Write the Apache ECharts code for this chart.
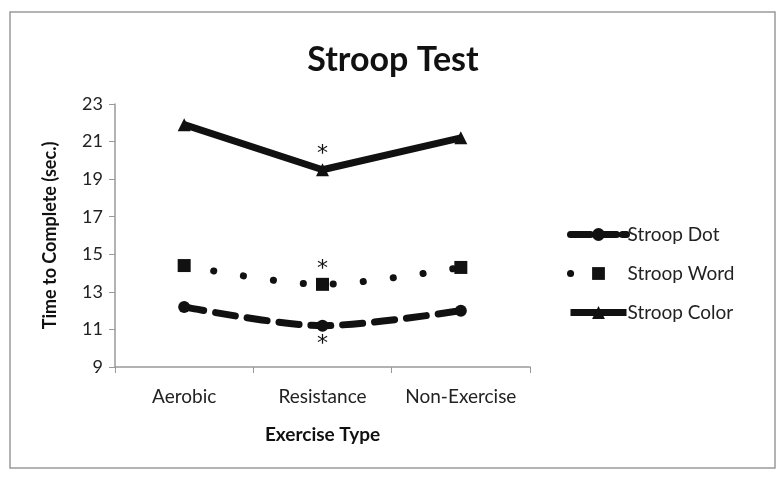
<!DOCTYPE html>
<html><head><meta charset="utf-8">
<script src="https://cdn.jsdelivr.net/npm/echarts@6/dist/echarts.min.js"></script>
<style>html,body{margin:0;padding:0;background:#fff}#c{width:780px;height:482px}</style>
</head><body><div id="c"></div>
<script>
const categories = ['Aerobic', 'Resistance', 'Non-Exercise'];
const stroopDot = [12.2, 11.2, 12.0];
const stroopWord = [14.4, 13.4, 14.3];
const stroopColor = [21.9, 19.5, 21.2];
const yTicks = [9, 11, 13, 15, 17, 19, 21, 23];
const sigIndex = 1; // Resistance marked with asterisk

const font = 'Lato, "Open Sans", sans-serif';
function withStar(vals, pos) {
  return vals.map((v, i) => i === sigIndex
    ? { value: v, label: { show: true, position: pos, formatter: '*', fontSize: 22, color: '#111', fontFamily: 'DejaVu Sans', distance: pos === 'top' ? -2 : 2, lineHeight: 22 } }
    : v);
}
const chart = echarts.init(document.getElementById('c'));
chart.setOption({
  animation: false,
  graphic: [{ type: 'rect', shape: { x: 10, y: 12, width: 765, height: 456 }, style: { fill: 'none', stroke: '#9a9a9a', lineWidth: 1.5 } }],
  title: { text: 'Stroop Test', left: 388, top: 38, textAlign: 'center', textStyle: { fontFamily: font, fontWeight: 'bold', fontSize: 34, color: '#111' } },
  grid: { left: 115, right: 250, top: 104, bottom: 115 },
  legend: {
    orient: 'vertical', left: 562, top: 220, itemGap: 20, itemWidth: 56, itemHeight: 16,
    textStyle: { fontFamily: font, fontSize: 19, color: '#222', padding: [0, 0, 0, -4] },
    data: [
      { name: 'Stroop Dot', lineStyle: { width: 7, type: [20, 6] } },
      { name: 'Stroop Word', lineStyle: { width: 7, type: [0.1, 30] } },
      { name: 'Stroop Color', lineStyle: { width: 7, type: 'solid' } }
    ]
  },
  xAxis: {
    type: 'category', data: categories, boundaryGap: true,
    name: 'Exercise Type', nameLocation: 'middle', nameGap: 58,
    nameTextStyle: { fontFamily: font, fontWeight: 'bold', fontSize: 19, color: '#111' },
    axisLine: { lineStyle: { color: '#999', width: 1.5 } },
    axisTick: { show: true, length: 6, lineStyle: { color: '#999' } },
    axisLabel: { fontFamily: font, fontSize: 19, color: '#222', margin: 20, interval: 0, hideOverlap: false }
  },
  yAxis: {
    type: 'value', min: yTicks[0], max: yTicks[yTicks.length - 1], interval: 2,
    name: 'Time to Complete (sec.)', nameLocation: 'middle', nameGap: 56, nameRotate: 90,
    nameTextStyle: { fontFamily: font, fontWeight: 'bold', fontSize: 18, color: '#111' },
    axisLine: { show: true, lineStyle: { color: '#999', width: 1.5 } },
    axisTick: { show: true, length: 6, lineStyle: { color: '#999' } },
    splitLine: { show: false },
    axisLabel: { fontFamily: font, fontSize: 18, color: '#222', margin: 12 }
  },
  series: [
    { name: 'Stroop Dot', type: 'line', smooth: 0.3, data: withStar(stroopDot, 'bottom'),
      symbol: 'circle', symbolSize: 12, itemStyle: { color: '#111' },
      lineStyle: { color: '#111', width: 7, type: [20, 12], cap: 'round' } },
    { name: 'Stroop Word', type: 'line', smooth: 0.3, data: withStar(stroopWord, 'top'),
      symbol: 'rect', symbolSize: 13, itemStyle: { color: '#111' },
      lineStyle: { color: '#111', width: 7, type: [0.1, 30], cap: 'round' } },
    { name: 'Stroop Color', type: 'line', data: withStar(stroopColor, 'top'),
      symbol: 'triangle', symbolSize: 13, itemStyle: { color: '#111' },
      lineStyle: { color: '#111', width: 7 } }
  ]
});
</script></body></html>
